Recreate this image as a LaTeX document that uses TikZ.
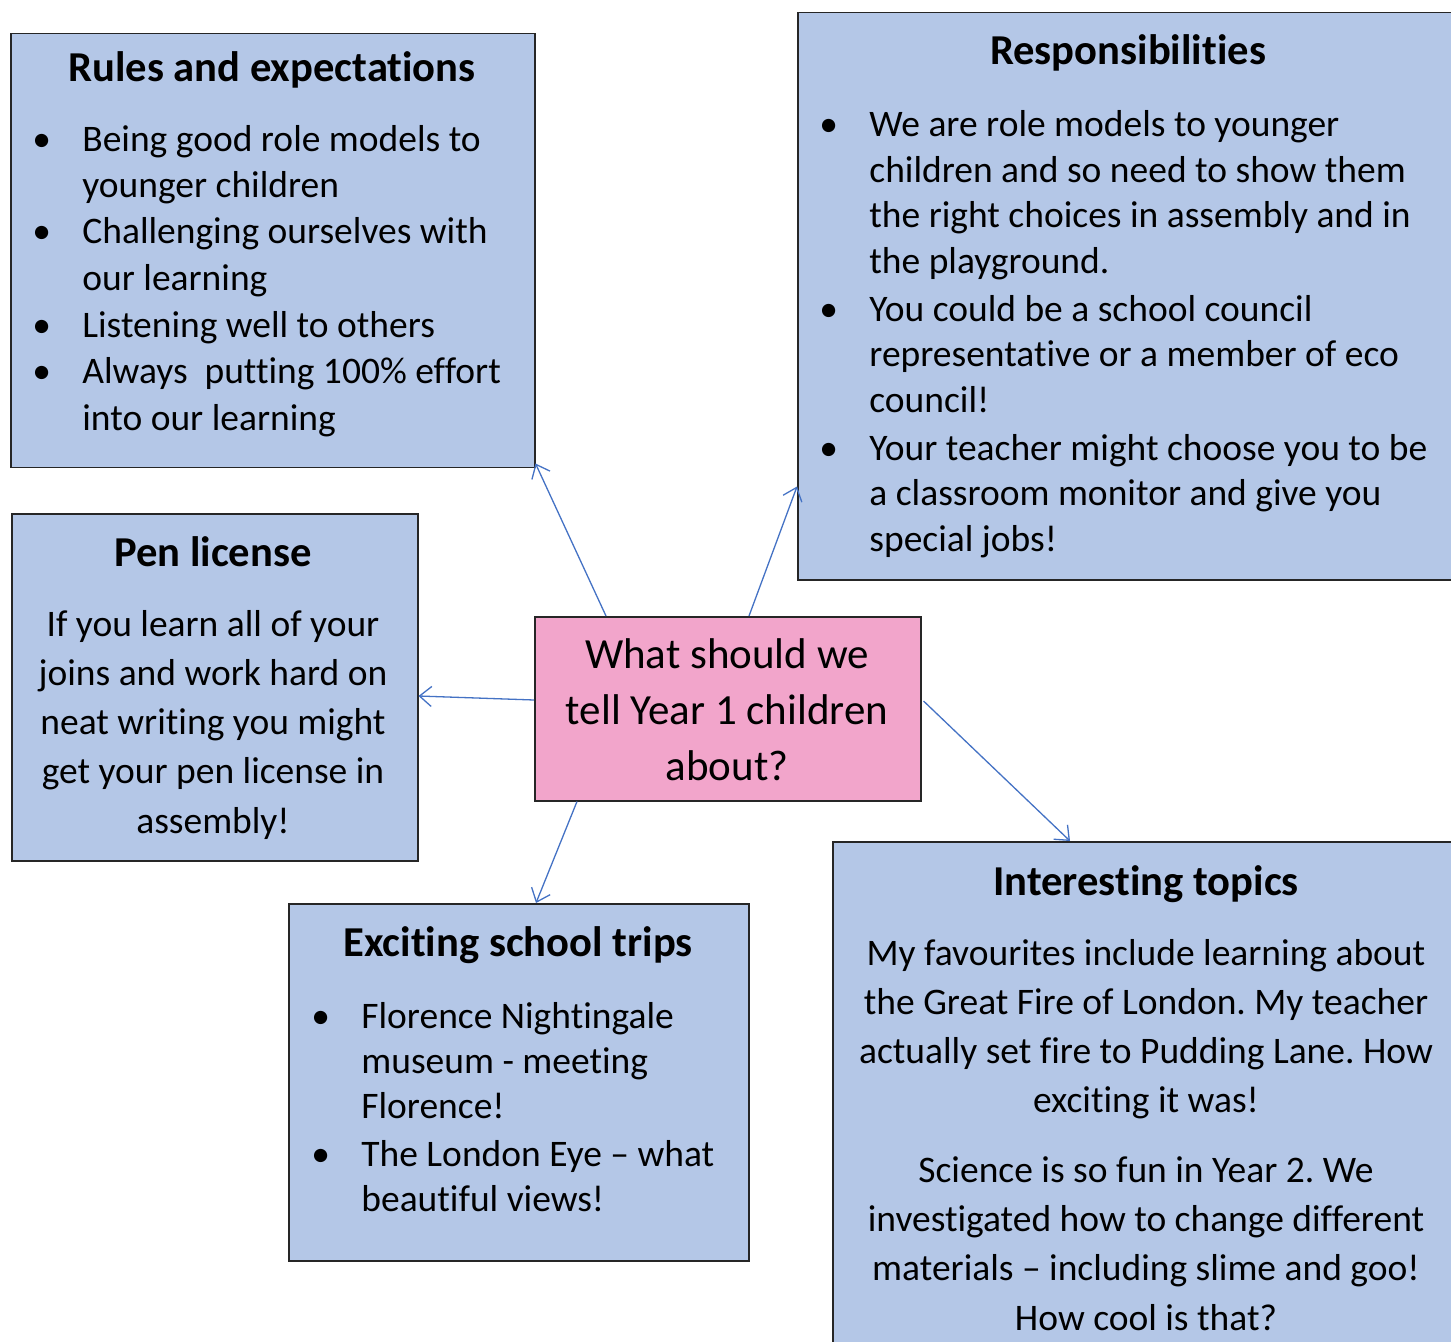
\documentclass[tikz,border=0pt]{standalone}
\usepackage{fontspec}
\setmainfont{Carlito}[RawFeature={-liga;-clig;-dlig;-calt}]
\usetikzlibrary{arrows.meta,positioning,calc}
\definecolor{boxblue}{HTML}{B4C7E7}
\definecolor{boxpink}{HTML}{F2A5CB}
\definecolor{linkblue}{HTML}{4472C4}
\newcommand{\bul}{\llap{\makebox[25pt][l]{\textbullet}}}
\frenchspacing
\begin{document}
\begin{tikzpicture}[x=0.5pt,y=-0.5pt,
  box/.style={draw=black!85,line width=0.75pt,fill=boxblue,anchor=north west,inner sep=0pt},
  hub/.style={box,fill=boxpink},
  title/.style={font=\fontsize{21.3}{24}\selectfont\bfseries,anchor=base,inner sep=0pt},
  body/.style={font=\fontsize{18.75}{23.25}\selectfont,align=left,anchor=base west,inner sep=0pt},
  para/.style={font=\fontsize{18.75}{24.6}\selectfont,align=center,anchor=base,inner sep=0pt},
  link/.style={->,draw=linkblue,line width=0.65pt,>={Straight Barb[length=6pt,width=10pt]}}]
\useasboundingbox (0,0) rectangle (1451,1342);
\clip (0,0) rectangle (1451,1342);
\node[box,minimum width=262pt,minimum height=217pt] (rules) at (10,33) {};
\node[box,minimum width=336.5pt,minimum height=283.5pt] (resp) at (797,12) {};
\node[box,minimum width=203pt,minimum height=173.5pt] (pen) at (11,513) {};
\node[hub,minimum width=193pt,minimum height=92pt] (hub) at (534,616) {};
\node[box,minimum width=230pt,minimum height=178.5pt] (trips) at (288,903) {};
\node[box,minimum width=324pt,minimum height=264.5pt] (topics) at (832,841) {};
% text nodes sit on the baseline of their last line
\node[title] (rulesT) at (272,82) {Rules and expectations};
\node[body] (rulesB) at (82,430) {\bul Being good role models to\\ younger children\\
  \bul Challenging ourselves with\\ our learning\\
  \bul Listening well to others\\
  \bul Always\ \ putting 100\% effort\\ into our learning};
\node[title] (respT) at (1128,65) {Responsibilities};
\node[body,font=\fontsize{18.75}{22.75}\selectfont] (respB) at (869,551) {\bul We are role models to younger\\ children and so need to show them\\
  the right choices in assembly and in\\ the playground.\\[1.2pt]
  \bul You could be a school council\\ representative or a member of eco\\ council!\\[1.2pt]
  \bul Your teacher might choose you to be\\ a classroom monitor and give you\\ special jobs!};
\node[title] (penT) at (213,566) {Pen license};
\node[para] (penB) at (213,833) {If you learn all of your\\ joins and work hard on\\
  neat writing you might\\ get your pen license in\\ assembly!};
\node[para,font=\fontsize{21.5}{28}\selectfont] (hubB) at (727,780) {What should we\\ tell Year 1 children\\ about?};
\node[title] (tripsT) at (518,956) {Exciting school trips};
\node[body,font=\fontsize{18.75}{22.5}\selectfont] (tripsB) at (361,1211) {\bul Florence Nightingale\\ museum - meeting\\ Florence!\\[1.5pt]
  \bul The London Eye – what\\ beautiful views!};
\node[title] (topicsT) at (1146,895) {Interesting topics};
\node[para] (topicsB) at (1146,1330) {My favourites include learning about\\
  the Great Fire of London. My teacher\\ actually set fire to Pudding Lane. How\\
  exciting it was!\\[10.2pt] Science is so fun in Year 2. We\\
  investigated how to change different\\ materials – including slime and goo!\\ How cool is that?};
\draw[link] ([xshift=36pt]hub.north west) -- ([yshift=2.5pt]rules.south east);
\draw[link] ([xshift=107.5pt]hub.north west) -- ([yshift=47pt]resp.south west);
\draw[link] ([yshift=-42pt]hub.north west) -- ([yshift=-91.5pt]pen.north east);
\draw[link] ([xshift=21.5pt]hub.south west) -- ([xshift=124pt]trips.north west);
\draw[link] ([yshift=-42.5pt,xshift=1pt]hub.north east) -- ([xshift=119pt]topics.north west);
\end{tikzpicture}
\end{document}
